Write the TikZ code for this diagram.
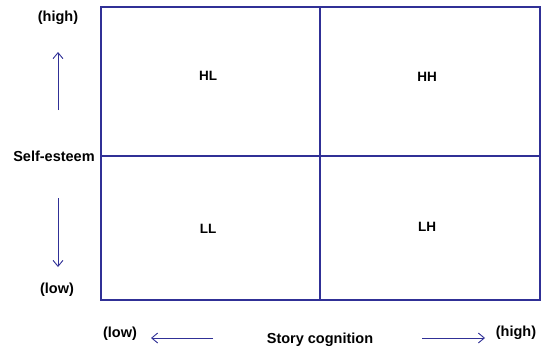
\documentclass[tikz,border=0pt]{standalone}
\usepackage{fontspec}
\setmainfont{Liberation Sans}
\usetikzlibrary{arrows.meta}
\definecolor{gridblue}{RGB}{48,48,150}
\begin{document}
\begin{tikzpicture}[x=1pt,y=-1pt,
    lbl/.style={font=\fontsize{14.5}{16}\selectfont\bfseries, inner sep=0pt},
    cell/.style={font=\fontsize{13.5}{15}\selectfont\bfseries, inner sep=0pt},
    axis/.style={draw=gridblue, line width=1.3pt},
    pointer/.style={draw=gridblue, line width=0.9pt, -{Straight Barb[length=6pt,width=10pt]}}]
    \useasboundingbox (0,0) rectangle (548,348);

    % Quadrants
    \draw[axis] (101,7) rectangle (540,300);
    \draw[axis] (320,7) -- (320,300);
    \draw[axis] (101,156) -- (540,156);

    % Labels des cases
    \node[cell] (hl) at (208,76) {HL};
    \node[cell] (hh) at (427,77) {HH};
    \node[cell] (ll) at (208,229) {LL};
    \node[cell] (lh) at (427,227) {LH};

    % Axe vertical
    \node[lbl] (selfesteem) at (54,156) {Self-esteem};
    \node[lbl] (vhigh) at (58,18) {(high)};
    \node[lbl] (vlow) at (57,290) {(low)};
    \coordinate (upfrom) at (58,110);
    \coordinate (upto) at (58,52);
    \coordinate (downfrom) at (58,198);
    \coordinate (downto) at (58,267);

    % Axe horizontal
    \node[lbl] (story) at (320,340) {Story cognition};
    \node[lbl] (hlow) at (120,334) {(low)};
    \node[lbl] (hhigh) at (516,333) {(high)};
    \coordinate (leftfrom) at (213,338);
    \coordinate (leftto) at (151,338);
    \coordinate (rightfrom) at (422,338);
    \coordinate (rightto) at (485,338);

    % Flèches
    \draw[pointer] (upfrom) -- (upto);
    \draw[pointer] (downfrom) -- (downto);
    \draw[pointer] (leftfrom) -- (leftto);
    \draw[pointer] (rightfrom) -- (rightto);
\end{tikzpicture}
\end{document}
